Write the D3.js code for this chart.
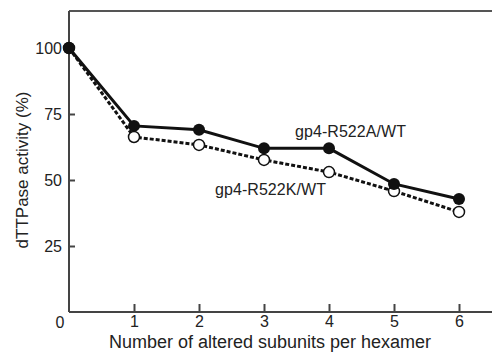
<!DOCTYPE html>
<html><head><meta charset="utf-8">
<script src="https://cdn.jsdelivr.net/npm/d3@7"></script>
<style>body{margin:0;background:#fff}text{font-family:"Liberation Sans",Arial,sans-serif;fill:#222}</style>
</head><body><svg id="c" width="492" height="356"></svg>
<script>
const subunits = [0,1,2,3,4,5,6];
const r522A = [100,70.5,69,62,62,48.5,42.8];
const r522K = [100,66.3,63.3,57.6,53,45.8,37.9];
const yTicks = [25,50,75,100];
const xTicks = [1,2,3,4,5,6];

const svg = d3.select("#c");
const L=69, R=492, T=11, B=312;
const x = d3.scaleLinear().domain([0,6]).range([L,459]);
const y = d3.scaleLinear().domain([0,100]).range([B,48]);

svg.append("line").attr("x1",L).attr("x2",R).attr("y1",T).attr("y2",T).attr("stroke","#555").attr("stroke-width",2);

const xa = svg.append("g").attr("transform",`translate(0,${B})`)
  .call(d3.axisBottom(x).tickValues(xTicks).tickFormat(d3.format("d")).tickSizeInner(-8).tickSizeOuter(0).tickPadding(4));
xa.select(".domain").attr("d",`M${L},0H${R}`);
const ya = svg.append("g").attr("transform",`translate(${L},0)`)
  .call(d3.axisLeft(y).tickValues(yTicks).tickFormat(d3.format("d")).tickSizeInner(-6).tickSizeOuter(0).tickPadding(7));
ya.select(".domain").attr("d",`M0,${T}V${B}`);
[xa,ya].forEach(a=>{a.selectAll("path,line").attr("stroke","#444").attr("stroke-width",2);
  a.selectAll("text").attr("font-size",16).attr("fill","#222").attr("font-family","Liberation Sans, Arial, sans-serif");});
svg.append("text").attr("x",60).attr("y",323).attr("dy","0.32em").attr("text-anchor","middle").attr("font-size",16).text("0");

const line = d3.line().x((d,i)=>x(subunits[i])).y(d=>y(d));
svg.append("path").datum(r522K).attr("d",line).attr("fill","none").attr("stroke","#111").attr("stroke-width",3).attr("stroke-dasharray","4,2");
svg.append("path").datum(r522A).attr("d",line).attr("fill","none").attr("stroke","#111").attr("stroke-width",3);
svg.selectAll(".o").data(r522K).enter().append("circle").attr("cx",(d,i)=>x(subunits[i])).attr("cy",d=>y(d)).attr("r",5.5).attr("fill","#fff").attr("stroke","#111").attr("stroke-width",1.5);
svg.selectAll(".f").data(r522A).enter().append("circle").attr("cx",(d,i)=>x(subunits[i])).attr("cy",d=>y(d)).attr("r",6).attr("fill","#111");

svg.append("text").attr("x",295).attr("y",137).attr("font-size",16).attr("textLength",111).text("gp4-R522A/WT");
svg.append("text").attr("x",215).attr("y",195).attr("font-size",16).attr("textLength",111).text("gp4-R522K/WT");
svg.append("text").attr("x",270).attr("y",348).attr("text-anchor","middle").attr("font-size",18).text("Number of altered subunits per hexamer");
svg.append("text").attr("transform","translate(28,170) rotate(-90)").attr("text-anchor","middle").attr("font-size",17).text("dTTPase activity (%)");
</script></body></html>
